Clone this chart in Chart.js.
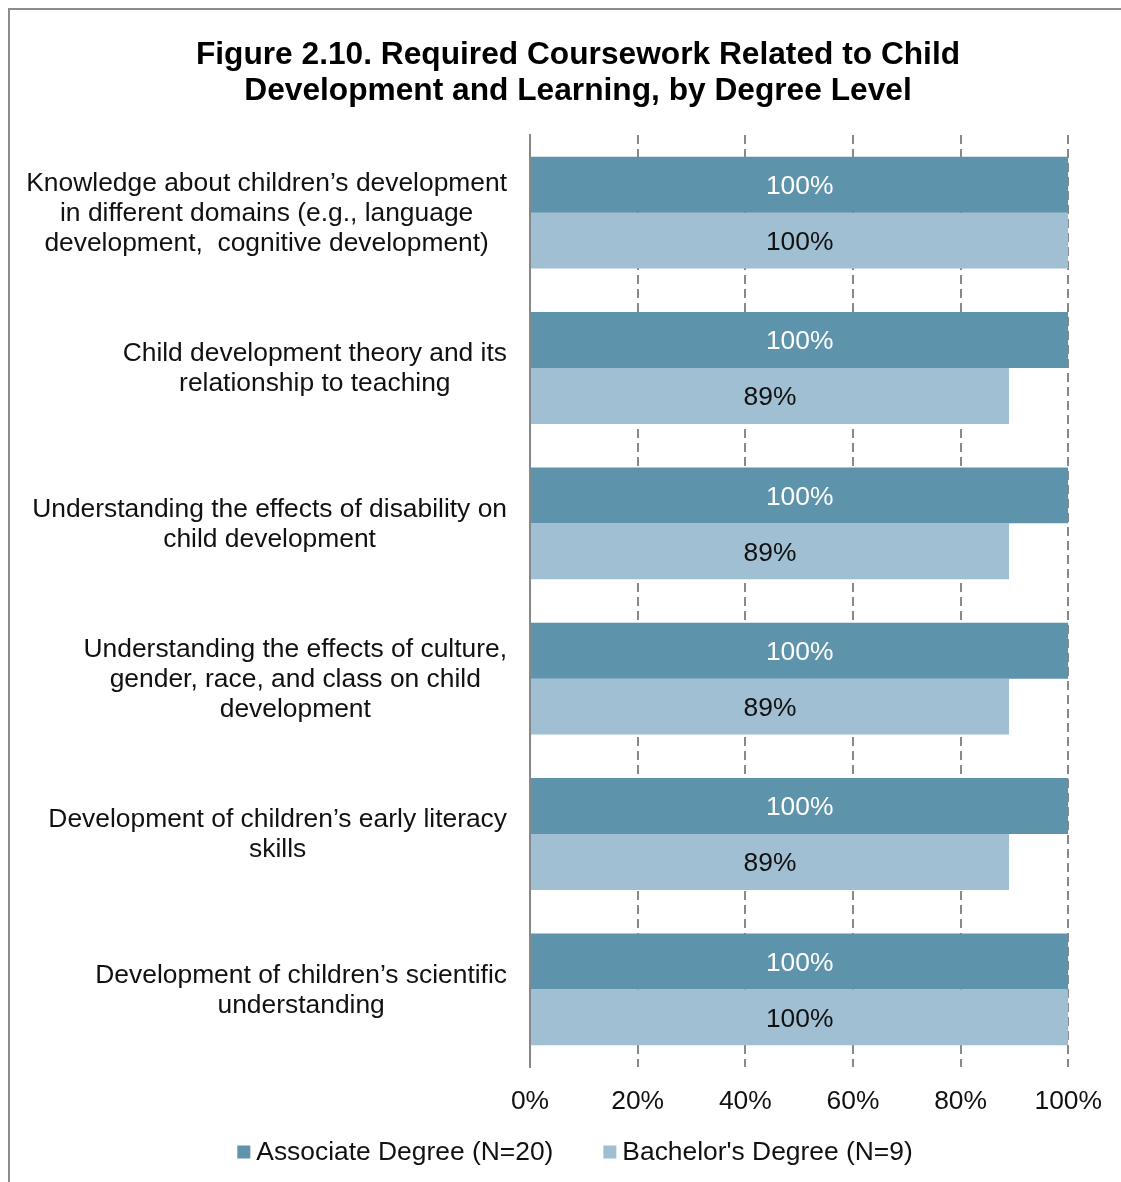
<!DOCTYPE html>
<html>
<head>
<meta charset="utf-8">
<script src="https://cdn.jsdelivr.net/npm/chart.js@4"></script>
<style>
  html, body { margin: 0; padding: 0; background: #fff; overflow: hidden; }
  #frame { position: absolute; left: 8px; top: 8px; width: 1130px; height: 1190px; border: 2px solid #8c8c8c; box-sizing: border-box; }
  #wrap { position: absolute; left: 0; top: 0; width: 1121px; height: 1182px; }
</style>
</head>
<body>
<div id="frame"></div>
<div id="wrap"><canvas id="c" width="1121" height="1182"></canvas></div>
<script>
const titleLines = ["Figure 2.10. Required Coursework Related to Child", "Development and Learning, by Degree Level"];
const categories = [
  ["Knowledge about children’s development", "in different domains (e.g., language", "development,  cognitive development)"],
  ["Child development theory and its", "relationship to teaching"],
  ["Understanding the effects of disability on", "child development"],
  ["Understanding the effects of culture,", "gender, race, and class on child", "development"],
  ["Development of children’s early literacy", "skills"],
  ["Development of children’s scientific", "understanding"]
];
const seriesNames = ["Associate Degree (N=20)", "Bachelor's Degree (N=9)"];
const seriesColors = ["#5e93ac", "#a0bfd3"];
const associateValues = [100, 100, 100, 100, 100, 100];
const bachelorValues = [100, 89, 89, 89, 89, 100];
const xTicks = [0, 20, 40, 60, 80, 100];

const FONT = "'Liberation Sans', Arial, sans-serif";
const FS = 26.4;

const catLabelPlugin = {
  id: 'catLabels',
  afterDraw(chart) {
    const ctx = chart.ctx;
    const y = chart.scales.y;
    ctx.save();
    ctx.font = FS + "px " + FONT;
    ctx.fillStyle = "#111";
    ctx.textBaseline = "middle";
    ctx.textAlign = "center";
    const lh = 30;
    const right = chart.chartArea.left - 23;
    categories.forEach((lines, i) => {
      const cy = y.getPixelForValue(i);
      let w = 0;
      lines.forEach(l => { w = Math.max(w, ctx.measureText(l).width); });
      const cx = right - w / 2;
      const top = cy - (lines.length - 1) * lh / 2;
      lines.forEach((l, k) => ctx.fillText(l, cx, top + k * lh + 1));
    });
    ctx.restore();
  }
};

const valueLabelPlugin = {
  id: 'valueLabels',
  afterDatasetsDraw(chart) {
    const ctx = chart.ctx;
    ctx.save();
    ctx.font = FS + "px " + FONT;
    ctx.textAlign = "center";
    ctx.textBaseline = "middle";
    chart.data.datasets.forEach((ds, di) => {
      const meta = chart.getDatasetMeta(di);
      ctx.fillStyle = di === 0 ? "#ffffff" : "#111111";
      meta.data.forEach((el, i) => {
        const cx = (el.x + el.base) / 2;
        ctx.fillText(ds.data[i] + "%", cx, el.y + 2);
      });
    });
    ctx.restore();
  }
};

const legendPlugin = {
  id: 'customLegend',
  afterDraw(chart) {
    const ctx = chart.ctx;
    ctx.save();
    ctx.font = FS + "px " + FONT;
    ctx.textBaseline = "middle";
    ctx.textAlign = "left";
    const box = 13, gapText = 6, gapItem = 50;
    const widths = seriesNames.map(n => ctx.measureText(n).width);
    const total = widths.reduce((a, b) => a + b, 0) + seriesNames.length * (box + gapText) + gapItem * (seriesNames.length - 1);
    let x = 575 - total / 2;
    const cy = 1152;
    seriesNames.forEach((n, i) => {
      ctx.fillStyle = seriesColors[i];
      ctx.fillRect(x, cy - box / 2, box, box);
      x += box + gapText;
      ctx.fillStyle = "#111";
      ctx.fillText(n, x, cy + 1);
      x += widths[i] + gapItem;
    });
    ctx.restore();
  }
};

new Chart(document.getElementById('c'), {
  type: 'bar',
  data: {
    labels: categories.map((c, i) => i),
    datasets: [
      { label: seriesNames[0], data: associateValues, backgroundColor: seriesColors[0], borderWidth: 0 },
      { label: seriesNames[1], data: bachelorValues, backgroundColor: seriesColors[1], borderWidth: 0 }
    ]
  },
  options: {
    indexAxis: 'y',
    responsive: false,
    animation: false,
    devicePixelRatio: 1,
    layout: { padding: { left: 87, right: 52, top: 0, bottom: 66 } },
    datasets: { bar: { categoryPercentage: 0.72, barPercentage: 1.0 } },
    scales: {
      x: {
        min: 0, max: 100,
        afterBuildTicks(scale) { scale.ticks = xTicks.map(v => ({ value: v })); },
        afterFit(scale) { scale.height = 49; },
        ticks: {
          callback: v => v + "%",
          font: { family: FONT, size: FS },
          color: "#111",
          padding: 19
        },
        grid: { display: true, color: "#888", lineWidth: 2, drawTicks: false },
        border: { display: false, dash: [9, 5] }
      },
      y: {
        type: 'category',
        afterFit(scale) { scale.width = 443; },
        ticks: { display: false },
        grid: { display: false, drawTicks: false },
        border: { display: true, color: "#888", width: 2 }
      }
    },
    plugins: {
      title: {
        display: true,
        text: titleLines,
        font: { family: FONT, size: 31.7, weight: 'bold', lineHeight: 1.136 },
        color: "#000",
        padding: { top: 37, bottom: 26 }
      },
      legend: { display: false },
      tooltip: { enabled: false }
    }
  },
  plugins: [catLabelPlugin, valueLabelPlugin, legendPlugin]
});
</script>
</body>
</html>
